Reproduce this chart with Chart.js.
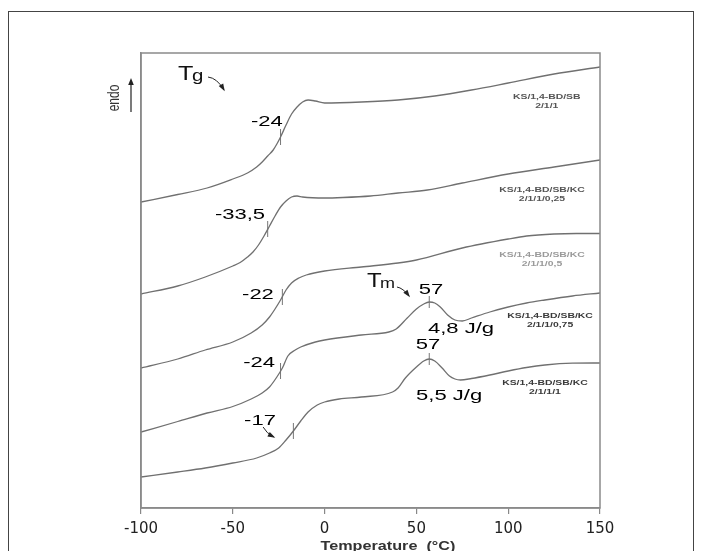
<!DOCTYPE html>
<html><head><meta charset="utf-8">
<script src="https://cdn.jsdelivr.net/npm/chart.js@4"></script>
<style>
html,body{margin:0;padding:0;background:#fff;overflow:hidden;}
#wrap{position:relative;width:701px;height:551px;overflow:hidden;}
#frame{position:absolute;left:8px;top:11px;width:684px;height:545px;border:1px solid #444;pointer-events:none;}
canvas{position:absolute;left:0;top:0;}
</style></head><body>
<div id="wrap"><canvas id="c" width="701" height="551"></canvas><div id="frame"></div></div>
<script>
// ---- data (temperature in °C, heat flow in arbitrary units, endo up) ----
const sampleNames  = ['KS/1,4-BD/SB', 'KS/1,4-BD/SB/KC', 'KS/1,4-BD/SB/KC', 'KS/1,4-BD/SB/KC', 'KS/1,4-BD/SB/KC'];
const sampleRatios = ['2/1/1', '2/1/1/0,25', '2/1/1/0,5', '2/1/1/0,75', '2/1/1/1'];
const xTitle = 'Temperature  (°C)';
const yTitle = 'endo';

const temp1 = [-100,-80,-64,-50,-42,-37,-34,-31,-28,-26,-24,-21,-18,-15,-12,-9,-5,0,20,40,60,80,100,125,150];
const heat1 = [306,313.5,320,329,335,341,346,352,358,364,371,383,394,401,406,408,407,405,406,408,412,418,425,434,441];

const temp2 = [-100,-80,-65,-50,-46,-42,-39,-36,-33,-30,-27,-24,-21,-18,-15,-12,0,10,25,40,56,75,100,125,150];
const heat2 = [214,222,231,242,245.5,251,256,263,272,282,292,301,307,311,312,311,310,310.5,312,315,318,325,334,341,348];

const temp3 = [-100,-80,-65,-50,-40,-34,-30,-27,-24,-21,-18,-14,-10,0,20,40,50,75,100,110,125,137,150];
const heat3 = [140,149,158,166,175,183,191,199,208,218,225,230,233,237,241,245,248,260,269,272,274,274.5,274.5];

const temp4 = [-100,-80,-64,-50,-40,-34,-30,-26,-23,-20,-16,-13,-5,0,20,35,39,45,50,54,57,60,63,67,71,75,80,90,100,110,120,135,150];
const heat4 = [76,86.5,95,101.5,109,115,121,131,140,152,158,161,166,168,173,176,179,190,199,204,206,205,201,193,188,187,190,196,201,205,208,212,215];

const temp5 = [-100,-80,-65,-50,-37,-30,-25,-21,-17,-13,-9,-4,0,8,20,37,40,44,50,54,57,60,64,68,71,74,80,90,100,110,120,135,150];
const heat5 = [31,36,40,45,50,55,60,68,77,87,96,103,106,109,111,116,120,130,141,147,149,147,140,132,129,128,129.5,133,137,140.5,143,144.8,145];

// glass transition marks and melting marks
const tgLabels = ['-24', '-33,5', '-22', '-24', '-17'];
const tgMarkT  = [-24, -31, -23, -24, -17];
const tgMarkV  = [371, 279, 211, 137, 77];
const tmLabels = ['57', '57'];
const tmMarkT  = [57, 57];
const tmMarkV  = [206, 149];
const enthalpyLabels = ['4,8 J/g', '5,5 J/g'];

const xTicks = [-100, -50, 0, 50, 100, 150];

// ---- build datasets ----
const curves = [[temp1,heat1],[temp2,heat2],[temp3,heat3],[temp4,heat4],[temp5,heat5]];
const datasets = curves.map((c, i) => ({
  label: sampleNames[i] + ' ' + sampleRatios[i],
  data: c[0].map((t, k) => ({x: t, y: c[1][k]})),
  borderColor: '#707070', borderWidth: 1.3, pointRadius: 0,
  cubicInterpolationMode: 'monotone', fill: false
}));
const TG_H = 8, TM_H = 6;
tgMarkT.forEach((t, i) => datasets.push({
  label: 'Tg ' + tgLabels[i],
  data: [{x: t, y: tgMarkV[i] - TG_H}, {x: t, y: tgMarkV[i] + TG_H}],
  borderColor: '#777', borderWidth: 1, pointRadius: 0
}));
tmMarkT.forEach((t, i) => datasets.push({
  label: 'Tm ' + tmLabels[i],
  data: [{x: t, y: tmMarkV[i] - TM_H}, {x: t, y: tmMarkV[i] + TM_H}],
  borderColor: '#777', borderWidth: 1, pointRadius: 0
}));

// ---- annotation layout (data coordinates) ----
const tgLabelPos = [[-31.4,386],[-46.1,293],[-36.3,213],[-35.7,145],[-35.2,87]];
const tmLabelPos = [[58,218],[56.3,163]];
const enthalpyPos = [[74.3,179],[67.8,112]];
const namePos = [[121,411],[118.4,318],[118.4,253],[122.8,192],[120,125]];
const nameColors = ['#555','#555','#9a9a9a','#3a3a3a','#3a3a3a'];
const SX = 1.42; // horizontal stretch of the original figure's lettering

function sText(ctx, text, x, y, font, color, sx, align, base) {
  ctx.save();
  ctx.font = font; ctx.fillStyle = color;
  ctx.textAlign = align || 'center'; ctx.textBaseline = base || 'middle';
  ctx.translate(x, y); ctx.scale(sx, 1);
  ctx.fillText(text, 0, 0);
  ctx.restore();
}
function arrow(ctx, x0, y0, cx, cy, x1, y1, color) {
  ctx.save();
  ctx.strokeStyle = color; ctx.fillStyle = color; ctx.lineWidth = 1;
  ctx.beginPath(); ctx.moveTo(x0, y0); ctx.quadraticCurveTo(cx, cy, x1, y1); ctx.stroke();
  const a = Math.atan2(y1 - cy, x1 - cx), L = 6, W = 2.6;
  ctx.beginPath();
  ctx.moveTo(x1 + Math.cos(a) * 1.5, y1 + Math.sin(a) * 1.5);
  ctx.lineTo(x1 - Math.cos(a) * L - Math.sin(a) * W, y1 - Math.sin(a) * L + Math.cos(a) * W);
  ctx.lineTo(x1 - Math.cos(a) * L + Math.sin(a) * W, y1 - Math.sin(a) * L - Math.cos(a) * W);
  ctx.closePath(); ctx.fill();
  ctx.restore();
}

const annoPlugin = {
  id: 'anno',
  afterDatasetsDraw(chart) {
    const {ctx, chartArea: ca, scales: {x, y}} = chart;
    const P = (t, v) => [x.getPixelForValue(t), y.getPixelForValue(v)];
    // plot frame
    ctx.save();
    ctx.strokeStyle = '#8a8a8a'; ctx.lineWidth = 1.5;
    ctx.strokeRect(ca.left, ca.top, ca.right - ca.left, ca.bottom - ca.top);
    ctx.restore();
    const numFont = '15.5px "Liberation Sans", Arial, sans-serif';
    tgLabels.forEach((s, i) => { const [px, py] = P(...tgLabelPos[i]); sText(ctx, s, px, py, numFont, '#000', SX); });
    tmLabels.forEach((s, i) => { const [px, py] = P(...tmLabelPos[i]); sText(ctx, s, px, py, numFont, '#000', SX); });
    enthalpyLabels.forEach((s, i) => { const [px, py] = P(...enthalpyPos[i]); sText(ctx, s, px, py, numFont, '#000', SX); });
    // sample names
    const nf = 'bold 8px "Liberation Sans", Arial, sans-serif';
    sampleNames.forEach((s, i) => {
      const [px, py] = P(...namePos[i]);
      sText(ctx, s, px, py, nf, nameColors[i], 1.3);
      sText(ctx, sampleRatios[i], px, py + 8.5, nf, nameColors[i], 1.3);
    });
    // Tg symbol
    let [tx, ty] = P(-79.8, 428);
    sText(ctx, 'T', tx, ty, '21px "Liberation Sans", Arial, sans-serif', '#111', 1.2, 'left', 'alphabetic');
    sText(ctx, 'g', tx + 14, ty + 1, '17px "Liberation Sans", Arial, sans-serif', '#111', 1.2, 'left', 'alphabetic');
    let [a0x, a0y] = P(-63.5, 431), [a1x, a1y] = P(-54.8, 418);
    arrow(ctx, a0x, a0y, a0x + 9, a0y + 1, a1x, a1y, '#222');
    // Tm symbol
    [tx, ty] = P(23.1, 221);
    sText(ctx, 'T', tx, ty, '20px "Liberation Sans", Arial, sans-serif', '#111', 1.2, 'left', 'alphabetic');
    sText(ctx, 'm', tx + 13, ty + 1, '15px "Liberation Sans", Arial, sans-serif', '#111', 1.2, 'left', 'alphabetic');
    [a0x, a0y] = P(39.4, 221); [a1x, a1y] = P(46, 212);
    arrow(ctx, a0x, a0y, a0x + 6, a0y + 1, a1x, a1y, '#222');
    // -17 pointer
    [a0x, a0y] = P(-33.5, 81); [a1x, a1y] = P(-27.6, 71);
    arrow(ctx, a0x, a0y, a0x + 3, a0y + 6, a1x, a1y, '#222');
    // endo arrow + label
    const ex = ca.left - 10, ey0 = ca.top + 59, ey1 = ca.top + 25;
    ctx.save(); ctx.strokeStyle = '#222'; ctx.lineWidth = 1.2;
    ctx.beginPath(); ctx.moveTo(ex, ey0); ctx.lineTo(ex, ey1 + 4); ctx.stroke();
    ctx.fillStyle = '#222'; ctx.beginPath(); ctx.moveTo(ex, ey1); ctx.lineTo(ex - 2.8, ey1 + 7); ctx.lineTo(ex + 2.8, ey1 + 7); ctx.closePath(); ctx.fill();
    ctx.restore();
    ctx.save();
    ctx.translate(ca.left - 26, ca.top + 45); ctx.scale(1.3, 1); ctx.rotate(-Math.PI / 2);
    ctx.font = '12px "Liberation Sans", Arial, sans-serif'; ctx.fillStyle = '#333';
    ctx.textAlign = 'center'; ctx.textBaseline = 'middle';
    ctx.fillText(yTitle, 0, 0);
    ctx.restore();
    // x axis title (stretched lettering, as in the original)
    sText(ctx, xTitle, x.getPixelForValue(34.5), ca.bottom + 39, 'bold 12px "Liberation Sans", Arial, sans-serif', '#333', 1.35);
  }
};

new Chart(document.getElementById('c'), {
  type: 'line',
  data: {datasets},
  options: {
    responsive: false, animation: false, devicePixelRatio: 1,
    layout: {padding: {left: 141, right: 101, top: 53, bottom: 0}},
    plugins: {legend: {display: false}, tooltip: {enabled: false}},
    scales: {
      x: {
        type: 'linear', min: -100, max: 150,
        afterFit(s) { s.height = 43; },
        afterBuildTicks(s) { s.ticks = xTicks.map(v => ({value: v})); },
        ticks: {font: {family: '"DejaVu Sans"', size: 15}, color: '#222', padding: 6, maxRotation: 0},
        grid: {drawOnChartArea: false, drawTicks: true, tickLength: 6, color: '#888', lineWidth: 1.2},
        border: {color: '#8a8a8a', width: 1.5},
        title: {display: false, text: xTitle}
      },
      y: {
        min: 0, max: 455,
        afterFit(s) { s.width = 0; },
        ticks: {display: false},
        grid: {display: false, drawTicks: false},
        border: {color: '#8a8a8a', width: 1.5}
      }
    }
  },
  plugins: [annoPlugin]
});
</script>
</body></html>
